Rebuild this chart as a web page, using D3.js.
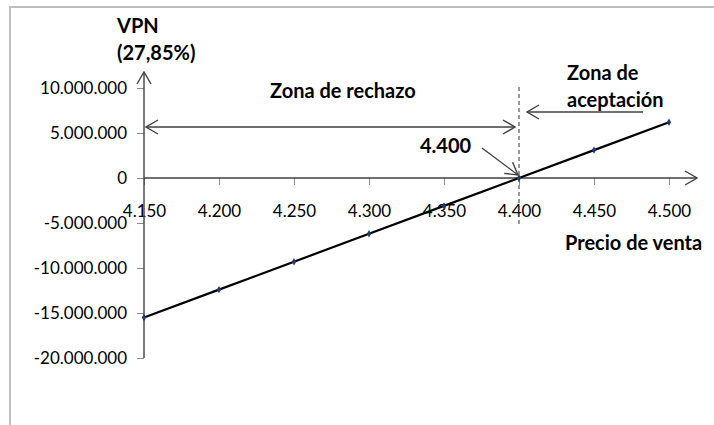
<!DOCTYPE html>
<html>
<head>
<meta charset="utf-8">
<script src="https://cdn.jsdelivr.net/npm/d3@7"></script>
<style>
  html, body { margin: 0; padding: 0; background: #fff; }
  svg { display: block; }
  text { font-family: Lato, "Open Sans", sans-serif; fill: #000; }
</style>
</head>
<body>
<svg id="chart" width="714" height="425"></svg>
<script>
// Precio de venta vs VPN at a 27,85% discount rate
const precios = [4150, 4200, 4250, 4300, 4350, 4400, 4450, 4500];
const vpn = [-15500000, -12400000, -9300000, -6200000, -3100000, 0, 3100000, 6200000];
const yTicks = [-20000000, -15000000, -10000000, -5000000, 0, 5000000, 10000000];
const precioCorte = 4400;

const fmt = d3.formatLocale({ decimal: ",", thousands: ".", grouping: [3], currency: ["", ""], minus: "-" }).format(",.0f");

const svg = d3.select("#chart");

// outer frame
svg.append("path")
  .attr("d", "M10,425 L10,7 L714,7")
  .attr("fill", "none")
  .attr("stroke", "#bfbfbf")
  .attr("stroke-width", 2);

const x = d3.scaleLinear().domain([4150, 4500]).range([144, 669]);
const y = d3.scaleLinear().domain([-20000000, 10000000]).range([358, 88]);

// open arrowhead marker
const defs = svg.append("defs");
defs.append("marker")
  .attr("id", "arr")
  .attr("markerUnits", "userSpaceOnUse")
  .attr("viewBox", "0 0 14 16")
  .attr("refX", 13).attr("refY", 8)
  .attr("markerWidth", 14).attr("markerHeight", 16)
  .attr("orient", "auto-start-reverse")
  .append("path")
  .attr("d", "M1,1 L13,8 L1,15")
  .attr("fill", "none")
  .attr("stroke", "#404040")
  .attr("stroke-width", 1.4);

// y axis
const yAxis = svg.append("g")
  .attr("transform", `translate(${x(4150)},0)`)
  .call(d3.axisLeft(y).tickValues(yTicks).tickSize(7).tickPadding(10).tickFormat(fmt));
yAxis.select(".domain").remove();
yAxis.selectAll(".tick line").attr("stroke", "#8c8c8c");
yAxis.selectAll(".tick text").style("font-size", "17px").style("font-family", "Lato, sans-serif").attr("fill", "#000");

// x axis
const xAxis = svg.append("g")
  .attr("transform", `translate(0,${y(0)})`)
  .call(d3.axisBottom(x).tickValues(precios).tickSize(7).tickPadding(20).tickFormat(fmt));
xAxis.select(".domain").remove();
xAxis.selectAll(".tick line").attr("stroke", "#8c8c8c");
xAxis.selectAll(".tick text").style("font-size", "17px").style("font-family", "Lato, sans-serif").attr("fill", "#000");

// axis lines with arrowheads
svg.append("line")
  .attr("x1", x(4150)).attr("y1", y(-20000000))
  .attr("x2", x(4150)).attr("y2", 72)
  .attr("stroke", "#404040").attr("stroke-width", 1.4)
  .attr("marker-end", "url(#arr)");
svg.append("line")
  .attr("x1", x(4150)).attr("y1", y(0))
  .attr("x2", 697).attr("y2", y(0))
  .attr("stroke", "#404040").attr("stroke-width", 1.4)
  .attr("marker-end", "url(#arr)");

// dashed break-even line
svg.append("line")
  .attr("x1", x(precioCorte)).attr("y1", 87)
  .attr("x2", x(precioCorte)).attr("y2", 226)
  .attr("stroke", "#555").attr("stroke-width", 1.2)
  .attr("stroke-dasharray", "4,3");

// rejection zone double arrow
svg.append("line")
  .attr("x1", 146).attr("y1", 127)
  .attr("x2", 515).attr("y2", 127)
  .attr("stroke", "#404040").attr("stroke-width", 1.4)
  .attr("marker-start", "url(#arr)")
  .attr("marker-end", "url(#arr)");

// acceptance zone arrow
svg.append("line")
  .attr("x1", 643).attr("y1", 112)
  .attr("x2", 527).attr("y2", 112)
  .attr("stroke", "#404040").attr("stroke-width", 1.4)
  .attr("marker-end", "url(#arr)");

// pointer to break-even
svg.append("line")
  .attr("x1", 482).attr("y1", 148)
  .attr("x2", x(precioCorte) - 1).attr("y2", y(0) - 3)
  .attr("stroke", "#404040").attr("stroke-width", 1.4)
  .attr("marker-end", "url(#arr)");

// VPN line
const pts = precios.map((p, i) => [p, vpn[i]]);
svg.append("path")
  .datum(pts)
  .attr("fill", "none")
  .attr("stroke", "#000")
  .attr("stroke-width", 2.2)
  .attr("d", d3.line().x(d => x(d[0])).y(d => y(d[1])));

svg.selectAll(".pt")
  .data(pts)
  .join("path")
  .attr("class", "pt")
  .attr("transform", d => `translate(${x(d[0])},${y(d[1])})`)
  .attr("d", d3.symbol(d3.symbolDiamond, 16))
  .attr("fill", "#1f3b73");

// labels
function label(txt, lx, ly) {
  svg.append("text")
    .attr("x", lx).attr("y", ly)
    .attr("dominant-baseline", "middle")
    .style("font-size", "20px")
    .style("font-weight", "bold")
    .text(txt);
}
label("VPN", 117, 28);
label("(27,85%)", 117, 55);
label("Zona de rechazo", 270, 93);
label("Zona de", 567, 75);
label("aceptación", 567, 102);
label(fmt(precioCorte), 420, 148);
label("Precio de venta", 565, 245);
</script>
</body>
</html>
